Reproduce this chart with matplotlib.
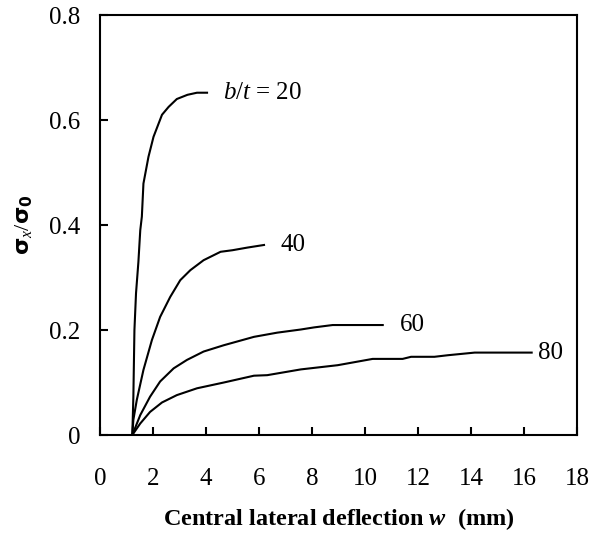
import matplotlib
matplotlib.use("Agg")
import matplotlib.pyplot as plt

x20 = [1.22, 1.26, 1.30, 1.36, 1.45, 1.52, 1.58, 1.64, 1.83, 2.02, 2.34, 2.59, 2.90, 3.30, 3.66, 4.04]
y20 = [0.0, 0.073, 0.20, 0.27, 0.33, 0.39, 0.416, 0.479, 0.53, 0.568, 0.61, 0.625, 0.64, 0.648, 0.652, 0.652]

x40 = [1.22, 1.26, 1.39, 1.64, 1.96, 2.27, 2.65, 3.03, 3.41, 3.91, 4.55, 5.00, 5.56, 6.19]
y40 = [0.0, 0.029, 0.067, 0.124, 0.181, 0.225, 0.263, 0.295, 0.314, 0.333, 0.349, 0.352, 0.357, 0.362]

x60 = [1.22, 1.52, 1.89, 2.27, 2.78, 3.28, 3.91, 4.67, 5.81, 6.69, 7.58, 8.08, 8.78, 10.67]
y60 = [0.0, 0.038, 0.073, 0.102, 0.127, 0.143, 0.159, 0.171, 0.187, 0.195, 0.201, 0.205, 0.2095, 0.2095]

x80 = [1.22, 1.52, 1.89, 2.34, 2.90, 3.66, 4.67, 5.81, 6.31, 7.58, 8.97, 10.29, 11.42, 11.74, 12.62, 13.13, 14.14, 16.29]
y80 = [0.0, 0.022, 0.044, 0.062, 0.076, 0.089, 0.100, 0.113, 0.114, 0.125, 0.133, 0.145, 0.145, 0.149, 0.149, 0.152, 0.157, 0.157]

labels = ["20", "40", "60", "80"]
xticks = [0, 2, 4, 6, 8, 10, 12, 14, 16, 18]
yticks = [0, 0.2, 0.4, 0.6, 0.8]
ytick_labels = ["0", "0.2", "0.4", "0.6", "0.8"]

plt.rcParams['font.family'] = ['Liberation Serif', 'DejaVu Serif']
plt.rcParams['mathtext.fontset'] = 'custom'
plt.rcParams['mathtext.rm'] = 'Liberation Serif'
plt.rcParams['mathtext.it'] = 'Liberation Serif:italic'
plt.rcParams['mathtext.bf'] = 'DejaVu Sans:bold'
plt.rcParams['mathtext.bfit'] = 'Liberation Serif:italic:bold'

fig = plt.figure(figsize=(5.93, 5.40), dpi=100)
ax = fig.add_axes([0.1686, 0.1944, 0.8044, 0.7778])

for xs, ys in [(x20, y20), (x40, y40), (x60, y60), (x80, y80)]:
    ax.plot(xs, ys, color='black', lw=1.5)

fs = 18
ax.text(4.66, y20[-1], r'$b/t$ = ' + labels[0], fontsize=fs, va='center', ha='left')
ax.text(6.8, y40[-1], labels[1], fontsize=fs, va='center', ha='left')
ax.text(11.3, y60[-1], labels[2], fontsize=fs, va='center', ha='left')
ax.text(16.54, y80[-1], labels[3], fontsize=fs, va='center', ha='left')

ax.set_xlim(0, 18)
ax.set_ylim(0, 0.8)
ax.set_xticks(xticks)
ax.set_xticklabels([str(t) for t in xticks])
ax.set_yticks(yticks)
ax.set_yticklabels(ytick_labels)
ax.tick_params(direction='in', length=6, width=1.5, labelsize=fs)
ax.tick_params(axis='y', pad=14)
ax.tick_params(axis='x', pad=24)
for s in ax.spines.values():
    s.set_linewidth(1.5)

ax.set_xlabel(r'Central lateral deflection $\mathbfit{w}$  (mm)', fontsize=17.5, fontweight='bold', labelpad=11)
ax.set_ylabel(r'$\mathbf{\sigma}_{x}/\mathbf{\sigma_0}$', fontsize=16, labelpad=10)

fig.savefig('out.png', dpi=100)
